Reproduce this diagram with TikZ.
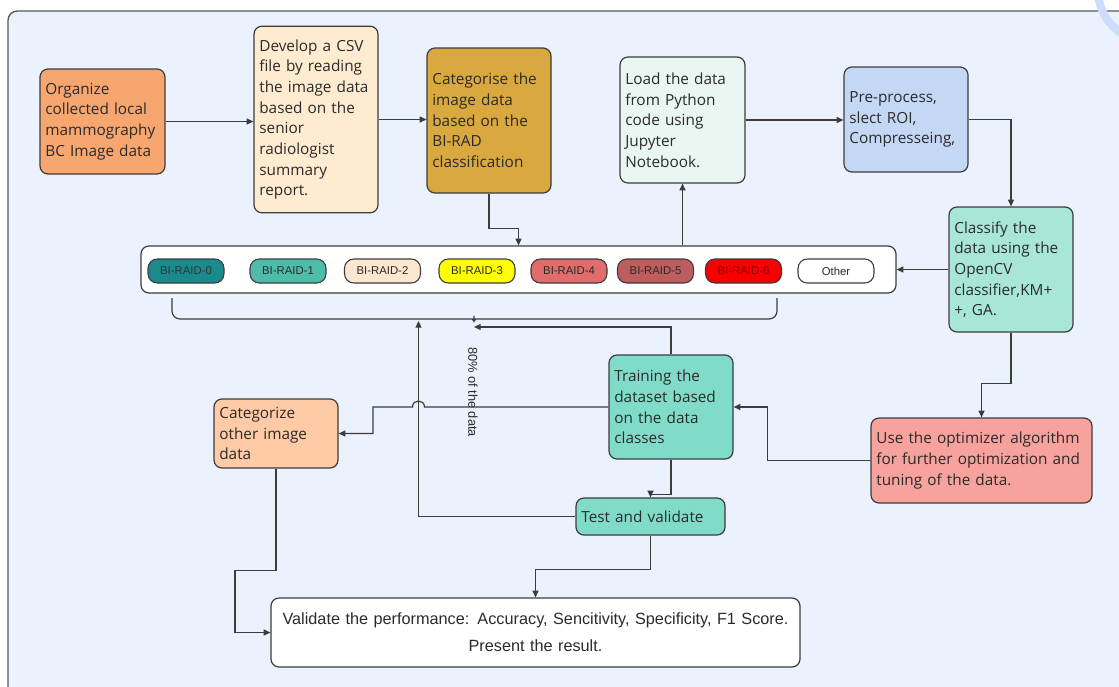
\documentclass[tikz,border=0pt]{standalone}
\usepackage{fontspec}
\setmainfont{Open Sans}
\newfontfamily\narrowfont{Liberation Sans}
\usepackage{tikz}
\usetikzlibrary{arrows.meta,calc}
\definecolor{Bg}{HTML}{EBF1FD}
\definecolor{Frame}{HTML}{5A5A5A}
\definecolor{Edge}{HTML}{3C3C3C}
\definecolor{Ink}{HTML}{2B2B2B}
\definecolor{Ring}{HTML}{CBDDF8}
\definecolor{COrange}{HTML}{F8A66F}
\definecolor{CCream}{HTML}{FFEBD0}
\definecolor{CGold}{HTML}{D9A83F}
\definecolor{CMint}{HTML}{E9F6F1}
\definecolor{CBlue}{HTML}{C4D8F6}
\definecolor{CAqua}{HTML}{A9E6DA}
\definecolor{CTeal}{HTML}{80DCC8}
\definecolor{CPeach}{HTML}{FFCBA6}
\definecolor{CPink}{HTML}{F7A29D}
\definecolor{RZero}{HTML}{1A8A8C}
\definecolor{ROne}{HTML}{4FBCAA}
\definecolor{RTwo}{HTML}{FDE6D0}
\definecolor{RThree}{HTML}{FFFF00}
\definecolor{RFour}{HTML}{E06C6C}
\definecolor{RFive}{HTML}{BD5D5D}
\definecolor{RSix}{HTML}{F80000}
\tikzset{
  pbox/.style={draw=Edge,line width=0.9pt,rounded corners=6pt,align=left,text=Ink,
    font=\fontsize{11.5}{15.5}\selectfont,inner xsep=4pt,inner ysep=2pt,
    text width=85pt,minimum width=93pt},
  pill/.style={draw=Edge,line width=0.8pt,rounded corners=7pt,text=Ink,
    minimum width=57pt,minimum height=18pt,inner sep=0pt,
    font=\narrowfont\fontsize{8.5}{10}\selectfont},
  arr/.style={draw=Edge,line width=0.9pt,-{Triangle[length=5pt,width=4.5pt]}}}
\newcommand{\pill}[4]{%
  \node[pill,#2] (#1) at (#3,271) {#4};}

\begin{document}
\begin{tikzpicture}[x=0.75pt,y=-0.75pt]
  \useasboundingbox (0,0) rectangle (1119,686);
  \fill[white] (0,0) rectangle (1119,686);
  \begin{scope}
    \clip (0,0) rectangle (1119,686);
    \fill[Bg,rounded corners=7pt] (8,11) rectangle (1170,720);
    \draw[Frame,line width=1pt,rounded corners=7pt] (8,720) -- (8,11) -- (1170,11);
    \draw[Ring,line width=6pt] (1150,-10) circle (52);
  \end{scope}

  \node[pbox,fill=COrange,minimum width=93.75pt,text width=85.75pt,minimum height=78.75pt] (org) at (102.5,121.5)
    {Organize\\collected local\\mammography\\BC Image data};
  \node[pbox,fill=CCream,minimum height=140pt] (csv) at (316,119.5)
    {Develop a CSV\\file by reading\\the image data\\based on the\\senior\\radiologist\\summary\\report.};
  \node[pbox,fill=CGold,minimum height=108.75pt] (birad) at (489,120.5)
    {Categorise the\\image data\\based on the\\BI-RAD\\classification};
  \node[pbox,fill=CMint,minimum width=93.75pt,text width=85.75pt,minimum height=94.5pt] (load) at (682.5,120)
    {Load the data\\from Python\\code using\\Jupyter\\Notebook.};
  \node[pbox,fill=CBlue,minimum height=78.75pt] (prep) at (906,119.5)
    {Pre-process,\\slect ROI,\\Compresseing,};
  \node[pbox,fill=CAqua,minimum height=93.75pt] (classify) at (1011,269.5)
    {Classify the\\data using the\\OpenCV\\classifier,KM+\\+, GA.};
  \node[pbox,fill=CTeal,minimum height=78pt] (train) at (671,407)
    {Training the\\dataset based\\on the data\\classes};
  \node[pbox,fill=CPeach,minimum height=51.75pt] (other) at (276,433.5)
    {Categorize\\other image\\data};
  \node[pbox,fill=CTeal,minimum width=111.75pt,text width=103.75pt,minimum height=27.75pt] (test) at (650.5,516.5)
    {Test and validate};
  \node[pbox,fill=CPink,minimum width=165.75pt,text width=157.75pt,minimum height=63.75pt] (optim) at (981.5,460.5)
    {Use the optimizer algorithm\\for further optimization and\\tuning of the data.};
  \node[pbox,fill=white,align=center,minimum width=396.75pt,text width=388.75pt,minimum height=51.75pt,
    font=\narrowfont\fontsize{12.2}{20}\selectfont] (valid) at (535.5,632.5)
    {Validate the performance: Accuracy, Sencitivity, Specificity, F1 Score.\\Present the result.};

  \node[draw=Edge,fill=white,line width=0.9pt,rounded corners=6pt,minimum width=566.25pt,minimum height=35.25pt] (bar) at (518.5,269.5) {};
  \pill{rzero}{fill=RZero,text=black!80}{186}{BI-RAID-0}
  \pill{rone}{fill=ROne}{288}{BI-RAID-1}
  \pill{rtwo}{fill=RTwo}{382.5}{BI-RAID-2}
  \pill{rthree}{fill=RThree}{477}{BI-RAID-3}
  \pill{rfour}{fill=RFour}{569}{BI-RAID-4}
  \pill{rfive}{fill=RFive}{655.5}{BI-RAID-5}
  \pill{rsix}{fill=RSix,text=red!55!black}{743.5}{BI-RAID-6}
  \pill{roth}{fill=white}{836}{Other}

  \draw[Edge,line width=0.9pt,rounded corners=6pt] (172,298) |- (466,319)
    .. controls (471,319) and (474,322) .. (474,327)
    .. controls (474,322) and (477,319) .. (482,319) -| (777,298);
  \coordinate (tip) at (474,327);
  \coordinate (up) at (418.5,321);
  \node[rotate=-90,text=Ink,font=\narrowfont\fontsize{9.6}{12}\selectfont] (pct) at (473,392) {80\% of the data};

  % Arrows
  \draw[arr] (org.east) -- (org.east -| csv.west);
  \draw[arr] (csv.east) -- (csv.east -| birad.west);
  \draw[arr] (birad.south) -- ++(0,35) -| (bar.north);
  \draw[arr] (bar.north -| load.south) -- (load.south);
  \draw[arr] (load.east) -- (load.east -| prep.west);
  \draw[arr] (prep.east) -| (classify.north);
  \draw[arr] (classify.west) -- (classify.west -| bar.east);
  \draw[arr] (classify.south) -- ++(0,51) -| (optim.north);
  \draw[arr] (optim.west) -- ++(-103,0) |- (train.east);
  \draw[arr] (train.north) |- (tip);
  \draw[arr] (train.west) -- (424.5,407) .. controls (424.5,399) and (412.5,399) .. (412.5,407)
    -- (373,407) |- (other.east);
  \draw[arr] (train.south) -- ++(0,35) -| (test.north);
  \draw[arr] (test.west) -| (up);
  \draw[arr] (test.south) -- ++(0,34) -| (valid.north);
  \draw[arr] (other.south) -- ++(0,102) -- ++(-41,0) |- (valid.west);
\end{tikzpicture}
\end{document}
